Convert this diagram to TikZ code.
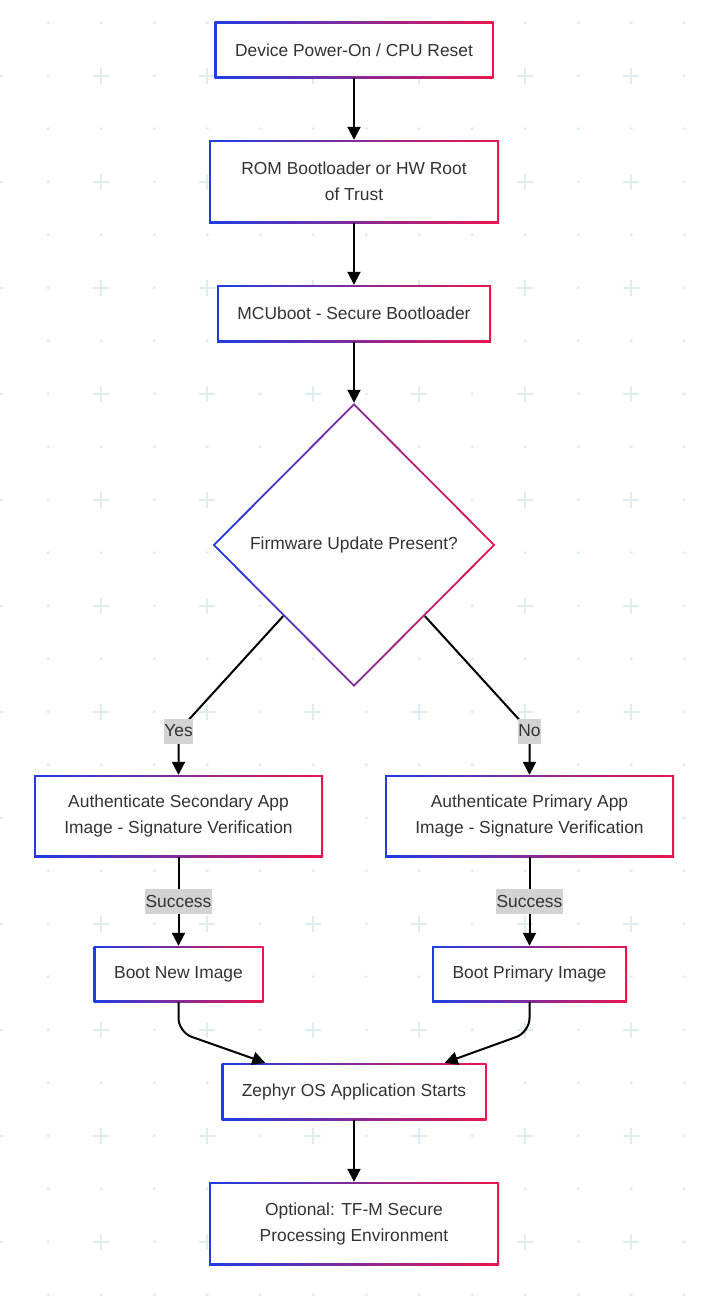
\documentclass[tikz,border=0pt]{standalone}
\usepackage{fontspec}
\setmainfont{Liberation Sans}
\usetikzlibrary{positioning, arrows.meta, shapes.geometric, calc}
\definecolor{bootblue}{RGB}{30,62,228}
\definecolor{bootred}{RGB}{234,22,78}
\definecolor{boottxt}{RGB}{51,51,51}
\definecolor{bootgrid}{RGB}{222,238,240}
\definecolor{bootlbl}{RGB}{211,211,211}

\tikzset{
  stage/.style={rectangle, left color=bootblue, right color=bootred,
    text=boottxt, align=center, inner sep=0pt,
    font=\fontsize{17.4}{26}\selectfont,
    path picture={\fill[white]
      ([xshift=2pt,yshift=-2pt]path picture bounding box.north west) rectangle
      ([xshift=-2pt,yshift=2pt]path picture bounding box.south east);}},
  decision/.style={diamond, aspect=1, minimum width=283pt, minimum height=284pt,
    left color=bootblue, right color=bootred, text=boottxt, inner sep=0pt,
    font=\fontsize{17.4}{26}\selectfont,
    path picture={\fill[white]
      ([yshift=-2.8pt]path picture bounding box.north) --
      ([xshift=-2.8pt]path picture bounding box.east) --
      ([yshift=2.8pt]path picture bounding box.south) --
      ([xshift=2.8pt]path picture bounding box.west) -- cycle;}},
  flow/.style={line width=2pt, black, -{Triangle[length=13pt,width=13pt]}},
  edgelbl/.style={fill=bootlbl, text=boottxt, inner xsep=0.5pt, inner ysep=0pt,
    minimum height=25pt, font=\fontsize{17.4}{26}\selectfont}
}

\begin{document}
\begin{tikzpicture}[x=1pt, y=-1pt]
        % canvas and dotted grid
        \useasboundingbox (0,0) rectangle (704,1298);
        \fill[white] (0,0) rectangle (704,1298);
        \foreach \i in {0,...,13}{
          \foreach \j in {0,...,24}{
            \pgfmathsetmacro{\gx}{-4.7+53*\i}
            \pgfmathsetmacro{\gy}{22.7+53*\j}
            \ifodd\j
              \ifodd\i
                \fill[bootgrid] (\gx,\gy) circle (1.7pt);
              \else
                \draw[bootgrid, line width=2.2pt]
                  (\gx-8,\gy) -- (\gx+8,\gy) (\gx,\gy-8) -- (\gx,\gy+8);
              \fi
            \else
              \fill[bootgrid] (\gx,\gy) circle (1.7pt);
            \fi
          }
        }

        % boot chain
        \node[stage, minimum width=279pt, minimum height=56pt] (power) at (354,50)
          {Device Power-On / CPU Reset};
        \node[stage, minimum width=290pt, minimum height=83pt] (rom) at (354,181.5)
          {ROM Bootloader or HW Root\\of Trust};
        \node[stage, minimum width=274pt, minimum height=57pt] (mcuboot) at (354,313.5)
          {MCUboot - Secure Bootloader};
        \node[decision] (fwcheck) at (354,545) {Firmware Update Present?};

        % two branches
        \node[stage, minimum width=289pt, minimum height=82pt] (authsec) at (178.5,816)
          {Authenticate Secondary App\\Image - Signature Verification};
        \node[stage, minimum width=289pt, minimum height=82pt] (authpri) at (529.5,816)
          {Authenticate Primary App\\Image - Signature Verification};
        \node[stage, minimum width=170pt, minimum height=56pt] (bootnew) at (178.5,974)
          {Boot New Image};
        \node[stage, minimum width=195pt, minimum height=56pt] (bootpri) at (529.5,974)
          {Boot Primary Image};

        % application
        \node[stage, minimum width=265pt, minimum height=57pt] (zephyr) at (354,1091.5)
          {Zephyr OS Application Starts};
        \node[stage, minimum width=290pt, minimum height=83pt] (tfm) at (354,1223.5)
          {Optional: TF-M Secure\\Processing Environment};

        % connectors
        \draw[flow] (power.south) -- (rom.north);
        \draw[flow] (rom.south) -- (mcuboot.north);
        \draw[flow] (mcuboot.south) -- (fwcheck.north);
        \coordinate (lblrow) at (0,731);
        \draw[flow] (fwcheck.south west) -- (authsec.north |- lblrow)
          node[edgelbl] {Yes} -- (authsec.north);
        \draw[flow] (fwcheck.south east) -- (authpri.north |- lblrow)
          node[edgelbl] {No} -- (authpri.north);
        \draw[flow] (authsec) -- node[edgelbl] {Success} (bootnew);
        \draw[flow] (authpri) -- node[edgelbl] {Success} (bootpri);
        \draw[flow, rounded corners=14pt] (bootnew.south) -- ++(0,30)
          -- ([xshift=44pt]zephyr.north west);
        \draw[flow, rounded corners=14pt] (bootpri.south) -- ++(0,30)
          -- ([xshift=-42pt]zephyr.north east);
        \draw[flow] (zephyr.south) -- (tfm.north);
      \end{tikzpicture}
\end{document}
